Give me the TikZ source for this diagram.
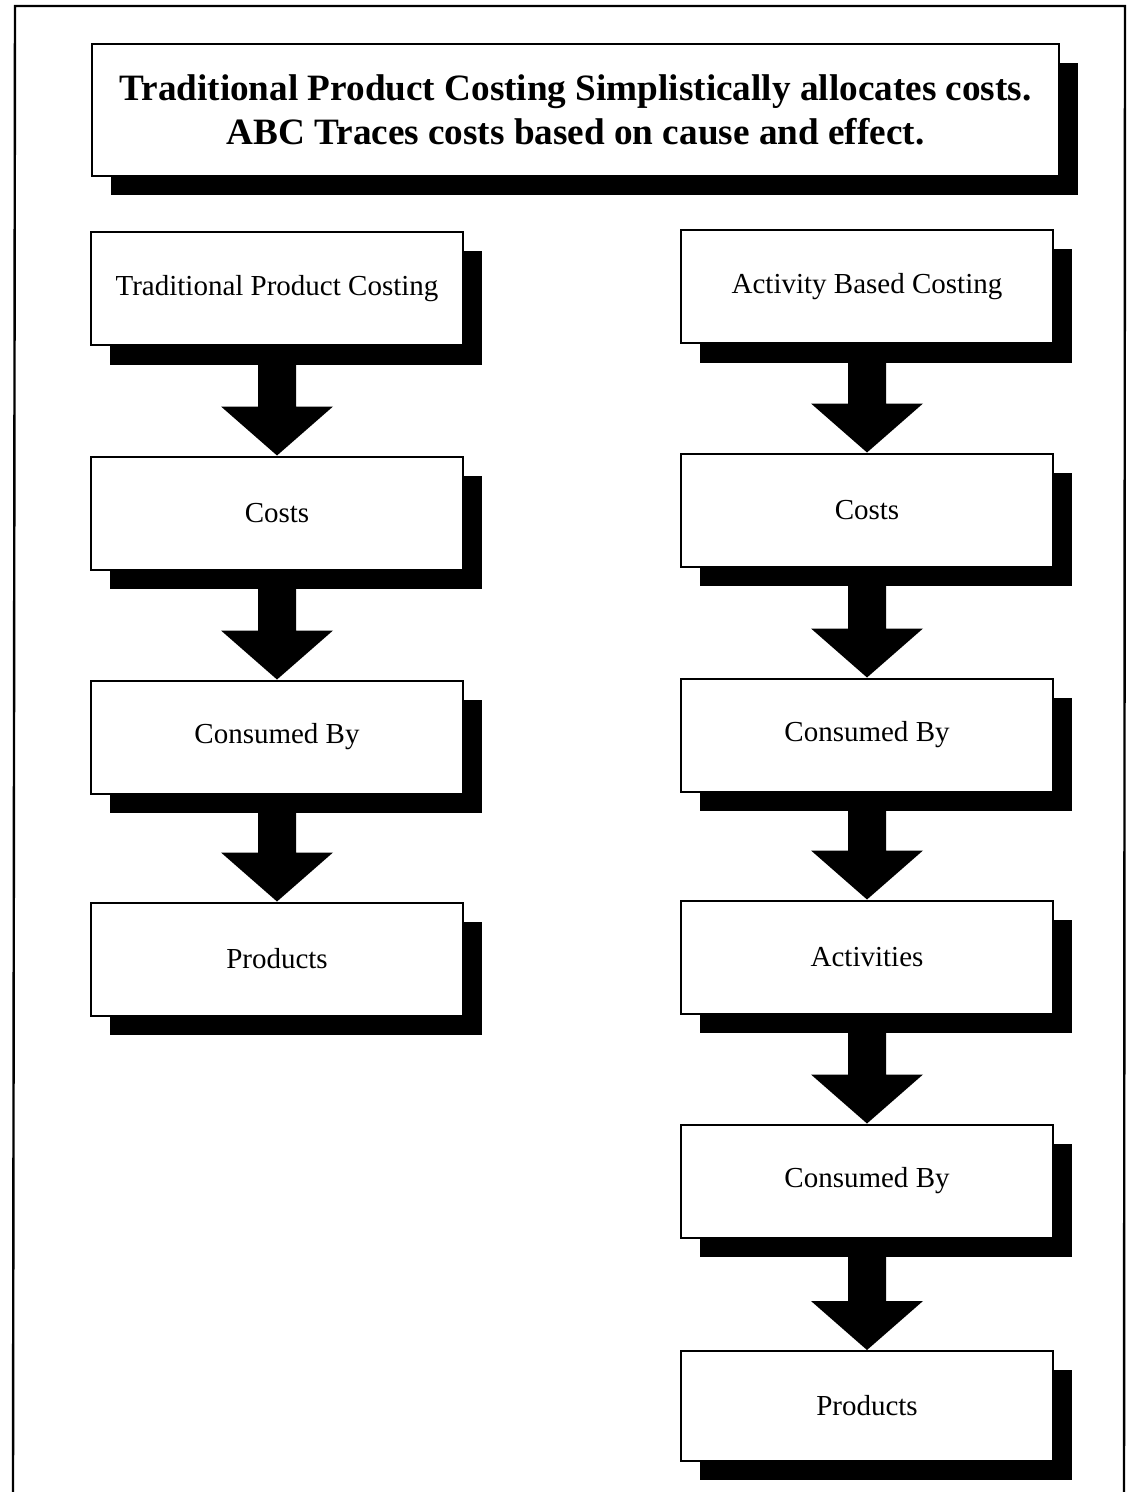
\documentclass[tikz,border=0pt]{standalone}
\usepackage{fontspec}
\setmainfont{Liberation Serif}
\usetikzlibrary{calc,shadows}

\tikzset{
  stepbox/.style={draw, line width=1pt, fill=white, inner sep=0pt,
    minimum width=186pt, minimum height=56.5pt, font=\fontsize{14.5}{16}\selectfont,
    drop shadow={shadow xshift=9.5pt, shadow yshift=-9.5pt, opacity=1, fill=black}},
  titlebox/.style={stepbox, minimum width=483.5pt, minimum height=66pt, align=center,
    font=\fontsize{18.6}{22}\selectfont\bfseries},
  frameline/.style={line width=1.2pt},
}

% thick block arrow from just below one box to the top of the next
\newcommand\blockarrow[2]{%
  \fill ($(#1.south)+(-19,1)$) -- ($(#2.north)+(-19,-49)$) -- ($(#2.north)+(-56,-49)$)
    -- (#2.north) -- ($(#2.north)+(56,-49)$) -- ($(#2.north)+(19,-49)$)
    -- ($(#1.south)+(19,1)$) -- cycle;}

\begin{document}
\begin{tikzpicture}[x=0.5pt,y=-0.5pt]
  \useasboundingbox (0,0) rectangle (1132,1492);

  % page frame, open at the bottom
  \coordinate (fbl) at (13,1492);
  \coordinate (ftl) at (15,6);
  \coordinate (ftr) at (1125,6);
  \coordinate (fbr) at (1124,1492);
  \draw[frameline] (fbl) -- (ftl) -- (ftr) -- (fbr);

  % heading
  \node[titlebox] (title) at (575.5,110)
    {Traditional Product Costing Simplistically allocates costs.\\ABC Traces costs based on cause and effect.};

  % traditional costing column
  \node[stepbox] (tpc)   at (277,289) {Traditional Product Costing};
  \node[stepbox] (tcost) at (277,513) {Costs};
  \node[stepbox] (tcons) at (277,737) {Consumed By};
  \node[stepbox] (tprod) at (277,959) {Products};

  % activity based costing column
  \node[stepbox] (abc)    at (867,287)  {Activity Based Costing};
  \node[stepbox] (acost)  at (867,510)  {Costs};
  \node[stepbox] (acons)  at (867,735)  {Consumed By};
  \node[stepbox] (aact)   at (867,957)  {Activities};
  \node[stepbox] (acons2) at (867,1181) {Consumed By};
  \node[stepbox, minimum height=55pt] (aprod) at (867,1406) {Products};

  \blockarrow{tpc}{tcost}
  \blockarrow{tcost}{tcons}
  \blockarrow{tcons}{tprod}

  \blockarrow{abc}{acost}
  \blockarrow{acost}{acons}
  \blockarrow{acons}{aact}
  \blockarrow{aact}{acons2}
  \blockarrow{acons2}{aprod}
\end{tikzpicture}
\end{document}
